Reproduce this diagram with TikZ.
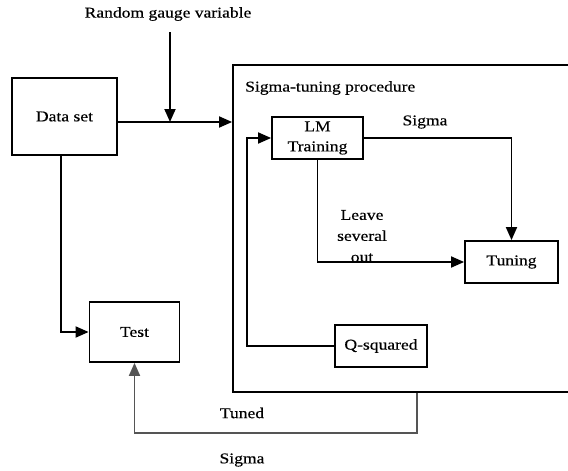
\documentclass[tikz,border=0pt]{standalone}
\usepackage{fontspec}
\setmainfont[FakeStretch=1.17,FakeBold=0.4]{Liberation Serif}
\usetikzlibrary{arrows.meta}
\definecolor{tunedgray}{HTML}{555555}
\begin{document}
\begin{tikzpicture}[x=1pt,y=-1pt,
  every node/.style={font=\fontsize{15}{21}\selectfont},
  box/.style={draw,line width=1.8pt,inner sep=0pt,align=center},
  lbl/.style={inner sep=0pt,align=center},
  conn/.style={line width=1.8pt},
  arr/.style={conn,-{Triangle[length=13pt,width=11pt]}},
  garr/.style={arr,draw=tunedgray}]
\useasboundingbox (0,0) rectangle (568,471);
% container (right side runs off the picture)
\node[box,minimum width=347,minimum height=327] (proc) at (406.5,228.5) {};
\node[lbl,anchor=west] (proctitle) at (245,88) {Sigma-tuning procedure};
% boxes
\node[box,minimum width=105,minimum height=77] (data) at (64.5,116.5) {Data set};
\node[box,minimum width=91,minimum height=42] (lm) at (317.5,138) {LM\\[-1pt]Training};
\node[box,minimum width=93,minimum height=42] (tun) at (511.5,262) {Tuning};
\node[box,minimum width=92,minimum height=42] (qsq) at (381,346) {Q-squared};
\node[box,minimum width=90,minimum height=60] (test) at (134.5,332) {Test};
% labels
\node[lbl] (rgv) at (168,14) {Random gauge variable};
\node[lbl] (sig1) at (425,122) {Sigma};
\node[lbl] (lso) at (362,236) {Leave\\several\\out};
\node[lbl] (tuned) at (242,413) {Tuned};
\node[lbl] (sig2) at (242,460) {Sigma};
% helper coordinates
\coordinate (rgvtop) at (170,32);
\coordinate (j) at (170,122);
\coordinate (qx) at (247,0);
\coordinate (tb) at (417,433);
% connectors
\draw[arr] (rgvtop) -- (j);
\draw[arr] (data.east |- j) -- (j -| proc.west);
\draw[arr] (lm.east) -- (tun.north |- lm.east) -- (tun.north);
\draw[arr] (lm.south) |- (tun.west);
\draw[arr] (qsq.west) -- (qsq.west -| qx) |- (lm.west);
\draw[arr] ([xshift=-3.5pt]data.south) |- (test.west);
\draw[garr] (tb |- proc.south) -- (tb) -| (test.south);
\end{tikzpicture}
\end{document}
